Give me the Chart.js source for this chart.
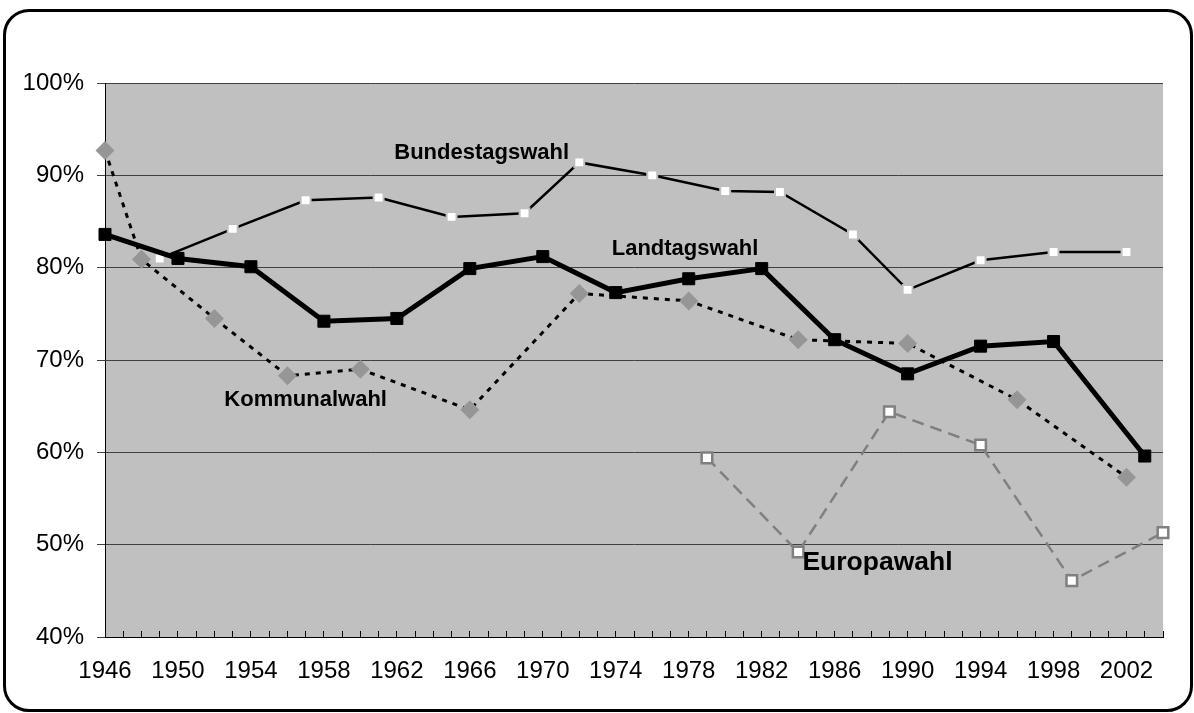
<!DOCTYPE html>
<html>
<head>
<meta charset="utf-8">
<script src="https://cdn.jsdelivr.net/npm/chart.js@4.4.0/dist/chart.umd.min.js"></script>
<style>
    html, body { margin: 0; padding: 0; background: #fff; }
    #frame {
        position: absolute; left: 3px; top: 9px; width: 1190px; height: 703px;
        box-sizing: border-box; border: 3px solid #000; border-radius: 26px;
    }
    #chart { position: absolute; left: 0; top: 0; }
</style>
</head>
<body>
<div id="frame"></div>
<canvas id="chart" width="1194" height="713"></canvas>
<script>
// --- Daten ---
const landtagYears = [1946, 1950, 1954, 1958, 1962, 1966, 1970, 1974, 1978, 1982, 1986, 1990, 1994, 1998, 2003];
const landtagValues = [83.6, 81.0, 80.1, 74.2, 74.5, 79.9, 81.2, 77.3, 78.8, 79.9, 72.2, 68.5, 71.5, 72.0, 59.6];

const bundestagYears = [1949, 1953, 1957, 1961, 1965, 1969, 1972, 1976, 1980, 1983, 1987, 1990, 1994, 1998, 2002];
const bundestagValues = [81.0, 84.2, 87.3, 87.6, 85.5, 85.9, 91.4, 90.0, 88.3, 88.2, 83.6, 77.6, 80.8, 81.7, 81.7];

const kommunalYears = [1946, 1948, 1952, 1956, 1960, 1966, 1972, 1978, 1984, 1990, 1996, 2002];
const kommunalValues = [92.7, 80.9, 74.5, 68.3, 69.0, 64.6, 77.2, 76.4, 72.2, 71.8, 65.7, 57.3];

const europaYears = [1979, 1984, 1989, 1994, 1999, 2004];
const europaValues = [59.4, 49.2, 64.4, 60.8, 46.1, 51.3];

// Beschriftungen im Diagramm (Position in Jahr / Prozent)
const seriesLabels = ['Bundestagswahl', 'Landtagswahl', 'Kommunalwahl', 'Europawahl'];
const seriesLabelYears = [1966.65, 1977.8, 1957.0, 1988.35];
const seriesLabelValues = [92.4, 82.0, 65.7, 48.1];

const yearMin = 1946, yearMax = 2004;
const pctMin = 40, pctMax = 100;

function toPoints(years, values) {
    return years.map((x, i) => ({ x: x, y: values[i] }));
}

// --- Plugin: grauer Hintergrund + Beschriftungen ---
const decorPlugin = {
    id: 'decor',
    beforeDraw(chart) {
        const a = chart.chartArea;
        const ctx = chart.ctx;
        ctx.save();
        ctx.fillStyle = '#c0c0c0';
        ctx.fillRect(a.left, a.top, a.right - a.left, a.bottom - a.top);
        ctx.restore();
    },
    afterDatasetsDraw(chart) {
        const ctx = chart.ctx;
        const xs = chart.scales.x, ys = chart.scales.y;
        ctx.save();
        ctx.fillStyle = '#000';
        ctx.textAlign = 'center';
        ctx.textBaseline = 'middle';
        seriesLabels.forEach((txt, i) => {
            const size = txt === 'Europawahl' ? 26.5 : 22;
            ctx.font = 'bold ' + size + 'px "Liberation Sans", Arial, sans-serif';
            ctx.fillText(txt, xs.getPixelForValue(seriesLabelYears[i]), ys.getPixelForValue(seriesLabelValues[i]));
        });
        ctx.restore();
    }
};

const tickFont = { family: '"Liberation Sans", Arial, sans-serif', size: 24 };

new Chart(document.getElementById('chart').getContext('2d'), {
    type: 'line',
    data: {
        datasets: [
            {
                label: 'Landtagswahl', data: toPoints(landtagYears, landtagValues),
                borderColor: '#000', borderWidth: 5, pointStyle: 'rect', pointRadius: 8.5,
                pointBackgroundColor: '#000', pointBorderColor: '#000', pointBorderWidth: 1, clip: false
            },
            {
                label: 'Bundestagswahl', data: toPoints(bundestagYears, bundestagValues),
                borderColor: '#000', borderWidth: 2.5, pointStyle: 'rect', pointRadius: 7,
                pointBackgroundColor: '#fff', pointBorderColor: '#c0c0c0', pointBorderWidth: 2, clip: false
            },
            {
                label: 'Kommunalwahl', data: toPoints(kommunalYears, kommunalValues),
                borderColor: '#000', borderWidth: 3, borderDash: [5, 6], pointStyle: 'rectRot', pointRadius: 9.5,
                pointBackgroundColor: '#969696', pointBorderWidth: 0, clip: false
            },
            {
                label: 'Europawahl', data: toPoints(europaYears, europaValues),
                borderColor: '#808080', borderWidth: 2.5, borderDash: [12, 7], pointStyle: 'rect', pointRadius: 7.5,
                pointBackgroundColor: '#fff', pointBorderColor: '#808080', pointBorderWidth: 2.5, clip: false
            }
        ]
    },
    options: {
        responsive: false,
        animation: false,
        events: [],
        layout: { padding: { top: 83, right: 31, left: 0, bottom: 0 } },
        plugins: { legend: { display: false }, tooltip: { enabled: false } },
        elements: { line: { tension: 0 } },
        scales: {
            x: {
                type: 'linear', min: yearMin, max: yearMax,
                afterFit(scale) { scale.height = 76; },
                grid: { display: true, drawOnChartArea: false, drawTicks: true, tickLength: -6, color: '#000', lineWidth: 1 },
                border: { display: true, color: '#000', width: 1 },
                ticks: {
                    stepSize: 1, autoSkip: false, maxRotation: 0, minRotation: 0, padding: 26,
                    color: '#000', font: tickFont,
                    callback: v => ((v - yearMin) % 4 === 0 ? String(v) : '')
                }
            },
            y: {
                min: pctMin, max: pctMax,
                afterFit(scale) { scale.width = 105; },
                grid: { color: '#404040', lineWidth: 1, drawTicks: true, tickLength: 8 },
                border: { display: true, color: '#000', width: 1 },
                ticks: {
                    stepSize: 10, padding: 13, color: '#000', font: tickFont,
                    callback: v => v + '%'
                }
            }
        }
    },
    plugins: [decorPlugin]
});
</script>
</body>
</html>
